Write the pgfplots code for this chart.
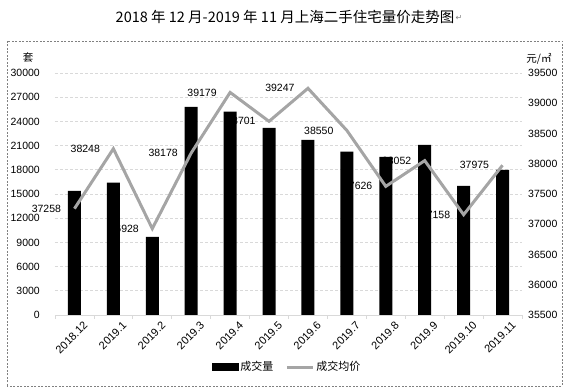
\documentclass[border=0pt]{standalone}
\usepackage{pgfplots}
\pgfplotsset{compat=1.18}
\usepackage{fontspec}
\setmainfont{Liberation Sans}
\newfontfamily\cjk{Noto Sans CJK SC}
\newfontfamily\dejavu{DejaVu Sans}
\definecolor{linegray}{RGB}{165,165,165}
\definecolor{gridgray}{RGB}{217,217,217}
\definecolor{framegray}{RGB}{128,128,128}
\begin{document}
\begin{tikzpicture}
\useasboundingbox (0,0) rectangle (564bp,392bp);
\draw[framegray, dash pattern=on 2bp off 1.5bp, line width=0.6bp] (7bp,6bp) rectangle (562bp,351bp);
\node[font=\cjk\fontsize{14.5bp}{16bp}\selectfont, anchor=center, inner sep=0] (T) at (285bp,375bp) {2018 年 12 月-2019 年 11 月上海二手住宅量价走势图};
\node[font=\dejavu\fontsize{8bp}{9bp}\selectfont, text=gray, anchor=west, inner sep=0] at ([xshift=1bp,yshift=-1bp]T.east) {↵};
\node[font=\cjk\fontsize{10.5bp}{12bp}\selectfont, inner sep=0] at (28bp,334bp) {套};
\node[font=\cjk\fontsize{10.5bp}{12bp}\selectfont, inner sep=0] at (539bp,333bp) {元/㎡};
\begin{axis}[
  at={(55bp,77bp)}, anchor=south west,
  width=467bp, height=242bp, scale only axis,
  xmin=-0.5, xmax=11.5, ymin=0, ymax=30000,
  ytick={0,3000,...,30000},
  scaled y ticks=false,
  xtick={0,...,11},
  xticklabels={2018.12,2019.1,2019.2,2019.3,2019.4,2019.5,2019.6,2019.7,2019.8,2019.9,2019.10,2019.11},
  minor xtick={-0.5,0.5,...,11.5},
  axis x line*=bottom, axis y line*=left,
  x axis line style={gridgray, line width=0.8bp, -},
  y axis line style={draw=none},
  major tick length=0pt,
  minor tick length=4bp,
  tick align=outside,
  minor tick style={gridgray, line width=0.8bp},
  ymajorgrids,
  major grid style={gridgray, dash pattern=on 3bp off 2bp, line width=0.6bp},
  /pgf/number format/1000 sep={},
  /pgf/number format/fixed,
  /pgf/number format/assume math mode=true,
  yticklabel style={font=\fontsize{10.5bp}{12bp}\selectfont, anchor=east, inner sep=0pt, xshift=-15bp},
  xticklabel style={font=\fontsize{11bp}{12bp}\selectfont, rotate=45, anchor=east, inner sep=0pt, yshift=-14bp, xshift=2bp},
]
\addplot[ybar, bar width=13bp, fill=black, draw=none] coordinates {
(0,15400) (1,16400) (2,9700) (3,25800) (4,25200) (5,23200)
(6,21700) (7,20250) (8,19600) (9,21100) (10,16000) (11,18000)};
\end{axis}
\begin{axis}[
  at={(55bp,77bp)}, anchor=south west,
  width=467bp, height=242bp, scale only axis,
  xmin=-0.5, xmax=11.5, ymin=35500, ymax=39500,
  ytick={35500,36000,...,39500},
  scaled y ticks=false,
  axis x line=none, axis y line*=right,
  y axis line style={draw=none},
  major tick length=0pt,
  /pgf/number format/1000 sep={},
  /pgf/number format/fixed,
  /pgf/number format/assume math mode=true,
  yticklabel style={font=\fontsize{10.5bp}{12bp}\selectfont, anchor=west, inner sep=0pt, xshift=6bp},
  legend style={at={(0.497,-0.215)}, anchor=center, legend columns=2, draw=none, fill=none,
    font=\cjk\fontsize{11bp}{13bp}\selectfont, inner sep=0pt,
    /tikz/every even column/.append style={column sep=10bp}},
  legend cell align=left,
]
\addlegendimage{legend image code/.code={\fill[black] (0bp,-3.5bp) rectangle (26bp,3.5bp);}}
\addlegendentry{成交量}
\addplot[linegray, line width=3bp, mark=none,
  nodes near coords={\pgfmathprintnumber[fixed,precision=0,1000 sep={}]{\pgfplotspointmeta}},
  every node near coord/.append style={black, anchor=east, inner sep=0pt, xshift=-12bp,
    font=\fontsize{10.5bp}{12bp}\selectfont},
  legend image code/.code={\draw[linegray, line width=3bp] (0bp,0bp)--(26bp,0bp);}
] coordinates {
(0,37258) (1,38248) (2,36928) (3,38178) (4,39179) (5,38701)
(6,39247) (7,38550) (8,37626) (9,38052) (10,37158) (11,37975)};
\addlegendentry{成交均价}
\end{axis}
\end{tikzpicture}
\end{document}
